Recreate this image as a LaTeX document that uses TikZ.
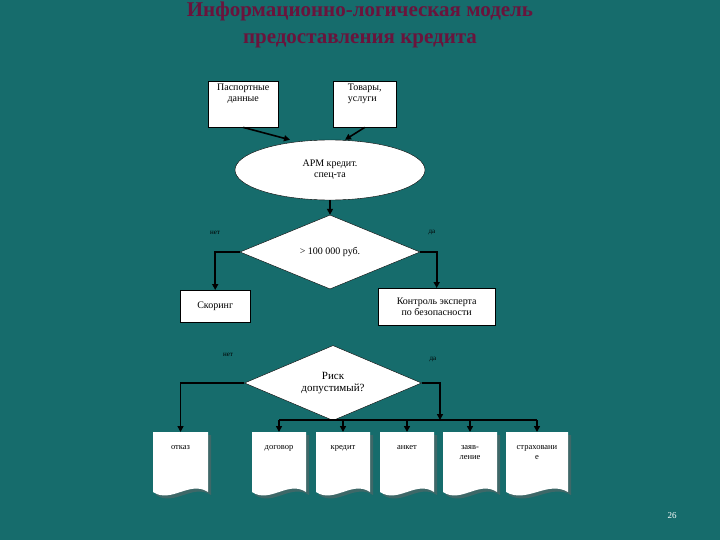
\documentclass[tikz,border=0pt]{standalone}
\usepackage{fontspec}
\setmainfont{Liberation Serif}
\usetikzlibrary{shapes.geometric,arrows.meta}
\definecolor{bg}{RGB}{22,108,108}
\definecolor{ttl}{RGB}{105,20,60}
\tikzset{
 x=1pt,y=-1pt,
 conn/.style={line width=1.6pt,black},
 arr/.style={conn,-{Triangle[length=6pt,width=6pt]}},
 boxw/.style={draw=black,fill=white,font=\fontsize{10}{11}\selectfont,align=center,inner sep=2pt},
 lbl/.style={font=\fontsize{7}{8}\selectfont,text=black},
 doctxt/.style={font=\fontsize{8.5}{10}\selectfont,align=center,text=black},
}
\newcommand{\docshape}[5]{% name, x, y, w, text
 \fill[black!60,opacity=0.5] (#2+3,#3+3) -- ++(#4,0) -- ++(0,60) .. controls +(-#4/3,-12) and +(#4/3,12) .. ++(-#4,0) -- cycle;
 \fill[white] (#2,#3) -- ++(#4,0) -- ++(0,60) .. controls +(-#4/3,-12) and +(#4/3,12) .. ++(-#4,0) -- cycle;
 \node[doctxt,minimum width=#4,minimum height=10,anchor=north] (#1) at (#2+#4/2,#3) {};
 \node[doctxt,anchor=north] at (#2+#4/2,#3+10) {#5};
}
\begin{document}
\begin{tikzpicture}
\useasboundingbox (0,0) rectangle (720,540);
\fill[bg] (0,0) rectangle (720,540);
\node[text=ttl,font=\fontsize{21}{27}\selectfont\bfseries,align=center] (title) at (360,25) {Информационно-логическая модель\\предоставления кредита};
\node[boxw,minimum width=70,minimum height=46,anchor=north west,align=center,text depth=22pt] (pass) at (208,81) {Паспортные\\данные};
\node[boxw,minimum width=63,minimum height=46,anchor=north west,align=left,text depth=22pt] (goods) at (333,81) {Товары,\\услуги};
\node[draw=black,fill=white,ellipse,minimum width=190,minimum height=60,font=\fontsize{10}{11}\selectfont,align=center] (arm) at (330,170) {АРМ кредит.\\спец-та};
\node[draw=black,fill=white,diamond,aspect=2.4,minimum width=180,minimum height=74,inner sep=0,font=\fontsize{10}{11}\selectfont] (d1) at (330,252) {> 100 000 руб.};
\node[boxw,minimum width=70,minimum height=32,anchor=north west] (scor) at (180,290) {Скоринг};
\node[boxw,minimum width=117,minimum height=37,anchor=north west] (ctrl) at (378,288) {Контроль эксперта\\по безопасности};
\node[draw=black,fill=white,diamond,aspect=2.4,minimum width=177,minimum height=75,inner sep=0,font=\fontsize{11}{12}\selectfont,align=center] (d2) at (333,383) {Риск\\допустимый?};
\node[lbl] (n1) at (215,233) {нет};
\node[lbl] (y1) at (432,233) {да};
\node[lbl] (n2) at (228,355) {нет};
\node[lbl] (y2) at (433,360) {да};
\docshape{otk}{153}{432}{55}{отказ}
\docshape{dog}{252}{432}{54}{договор}
\docshape{kred}{316}{432}{54}{кредит}
\docshape{ank}{380}{432}{54}{анкет}
\docshape{zay}{443}{432}{54}{заяв-\\ление}
\docshape{str}{506}{432}{62}{страховани\\е}
\draw[arr] (pass.south) -- (arm.north -| 290,0);
\draw[arr] (goods.south) -- (arm.north -| 345,0);
\draw[arr] (arm.south) -- (d1.north);
\draw[arr] (d1.west) -| (scor.north);
\draw[arr] (d1.east) -| (ctrl.north);
\draw[arr] (d2.west) -| (otk.north);
\coordinate (bus) at (440,420);
\draw[arr] (d2.east) -| (bus);
\draw[conn] (dog.north |- bus) -- (str.north |- bus);
\foreach \d in {dog,kred,ank,zay,str} \draw[arr] (\d.north |- bus) -- (\d.north);
\node[text=white,font=\fontsize{9}{10}\selectfont] (pg) at (672,516) {26};
\end{tikzpicture}
\end{document}
